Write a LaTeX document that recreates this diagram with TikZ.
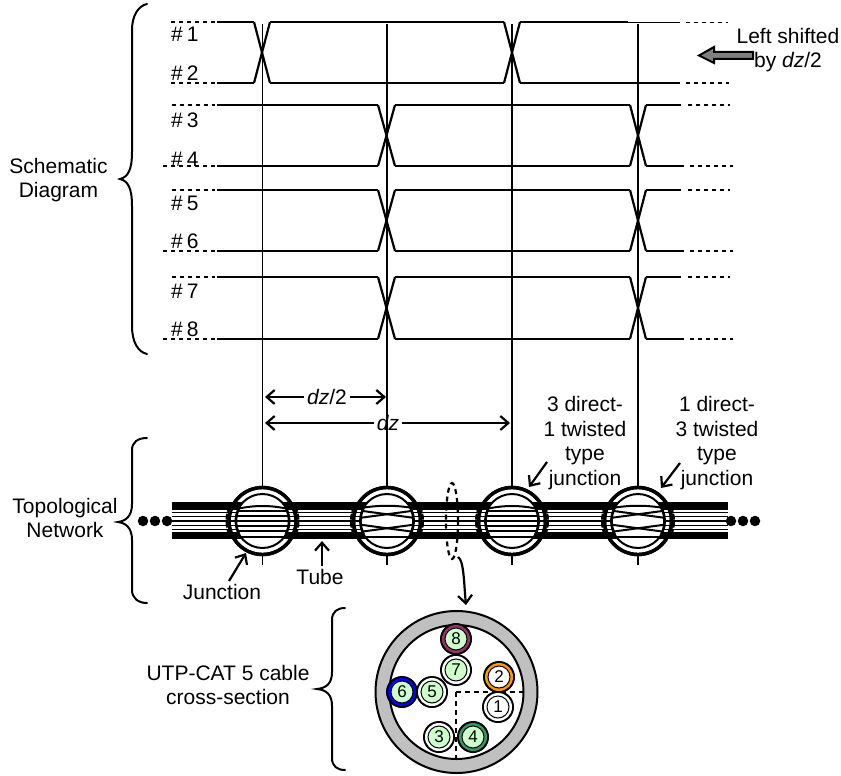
\documentclass[tikz,border=0pt]{standalone}
\usepackage{fontspec}
\setmainfont{Liberation Sans}
\usetikzlibrary{arrows.meta,shapes.geometric}
\definecolor{palegreen}{HTML}{CCFFCC}
\definecolor{ringgray}{HTML}{C0C0C0}
\definecolor{wirepurple}{HTML}{993366}
\definecolor{wireorange}{HTML}{FF9900}
\definecolor{wireblue}{HTML}{0000FF}
\definecolor{wiregreen}{HTML}{339966}
\tikzset{
  lab/.style={font=\fontsize{21}{24.5}\selectfont,inner sep=0pt,align=center},
  pair/.style={font=\fontsize{21}{24}\selectfont,inner sep=0pt,anchor=west},
  thinw/.style={line width=1.7pt},
  thickw/.style={line width=2.6pt},
  crossw/.style={line width=2.2pt},
  dotw/.style={line width=1.6pt,dash pattern=on 3.5pt off 4.5pt},
  vline/.style={line width=1.8pt},
  brace/.style={line width=2pt,line cap=round},
  barb/.style={line width=2.2pt,-{Straight Barb[length=8pt,width=14pt,line width=2.2pt]}},
  tubeline/.style={line width=#1},
  dashc/.style={line width=2.2pt,dash pattern=on 5pt off 4pt},
  ringn/.style={circle,draw=black,line width=3.4pt,fill=white,minimum size=67pt,inner sep=0pt},
}
\newcommand{\tubelines}[2]{%
  \foreach \yy/\ww in {505.8/8,512.5/1.4,516.5/1.4,521/2.6,525.5/1.4,529.5/1.4,535.6/7.6}{
    \draw[tubeline=\ww pt] (#1,\yy) -- (#2,\yy);
  }
}
\newcommand{\junctionbody}[3]{% name, x, type
  \node[ringn] (#1) at (#2,521) {};
  \begin{scope}
    \clip (#2,521) circle (33);
    \tubelines{#2-40}{#2+40}
  \end{scope}
  \fill[white] (#2,521) circle (27);
  \begin{scope}
    \clip (#2,521) circle (27);
    \ifnum#3=0
      \foreach \yy/\ww in {-10.5/2,-5/2,0/2,5/2,10/2,15.5/2}{
        \draw[line width=\ww pt] (#2-30,521+\yy) -- (#2+30,521+\yy);
      }
      \draw[line width=2pt] (#2-26,509) .. controls (#2-8,505) and (#2+8,505) .. (#2+26,509);
    \else
      \draw[line width=2pt] (#2-26,508) .. controls (#2-8,505) and (#2+8,505) .. (#2+26,508);
      \draw[line width=2pt] (#2-30,537) -- (#2+30,537);
      \draw[line width=2pt] (#2-28,510.5) -- (#2+28,518);
      \draw[line width=2pt] (#2-28,518) -- (#2+28,510.5);
      \draw[line width=2pt] (#2-28,524.5) -- (#2+28,532);
      \draw[line width=2pt] (#2-28,532) -- (#2+28,524.5);
    \fi
  \end{scope}
  \draw[line width=2pt] (#2,521) circle (27);
  \draw[line width=3.4pt] (#2,521) circle (33.5);
  \draw[line width=2pt,dash pattern=on 6pt off 2pt] (#2-33,506) .. controls (#2-37,516) and (#2-37,526) .. (#2-33,536);
  \draw[line width=2pt,dash pattern=on 6pt off 2pt] (#2+33,506) .. controls (#2+37,516) and (#2+37,526) .. (#2+33,536);
  \draw[line width=1.6pt] (#2-23,508) .. controls (#2-27,516) and (#2-27,526) .. (#2-23,534);
  \draw[line width=1.6pt] (#2+23,508) .. controls (#2+27,516) and (#2+27,526) .. (#2+23,534);
}
\begin{document}
\begin{tikzpicture}[x=1pt,y=-1pt]
\useasboundingbox (0,0) rectangle (841,776);
% named anchors
\foreach \n/\xx in {a/262.5,b/387,c/512,d/638}{
  \coordinate (top\n) at (\xx,24);
  \coordinate (bot\n) at (\xx,565);
}
% tube
\tubelines{172}{728}
% verticals
\foreach \n in {a,b,c,d}{\draw[vline] (top\n) -- (bot\n);}
% junctions
\junctionbody{ja}{262.5}{0}
\junctionbody{jb}{387}{1}
\junctionbody{jc}{512}{0}
\junctionbody{jd}{638}{1}
% wires 1/2
\draw[thickw] (217,22) -- (254,22);
\draw[thinw] (217,83) -- (254,83);
\draw[crossw] (254,22) -- (270,83);
\draw[crossw] (254,83) -- (270,22);
\draw[thickw] (270,22) -- (504,22);
\draw[thinw] (270,83) -- (504,83);
\draw[crossw] (504,22) -- (520,83);
\draw[crossw] (504,83) -- (520,22);
\draw[thickw] (520,22) -- (628,22);
\draw[thinw] (628,22.5) -- (680,22.5);
\draw[thinw] (520,83) -- (680,83);
% wires 3/4
\draw[thinw] (217,105) -- (378,105);
\draw[thinw] (217,166) -- (378,166);
\draw[crossw] (378,105) -- (395,166);
\draw[crossw] (378,166) -- (395,105);
\draw[thinw] (395,105) -- (630,105);
\draw[thinw] (395,166) -- (630,166);
\draw[crossw] (630,105) -- (646,166);
\draw[crossw] (630,166) -- (646,105);
\draw[thinw] (646,105) -- (681,105);
\draw[thinw] (646,166) -- (684,166);
% wires 5/6
\draw[thinw] (217,190) -- (378,190);
\draw[thinw] (217,251) -- (378,251);
\draw[crossw] (378,190) -- (395,251);
\draw[crossw] (378,251) -- (395,190);
\draw[thinw] (395,190) -- (630,190);
\draw[thinw] (395,251) -- (630,251);
\draw[crossw] (630,190) -- (646,251);
\draw[crossw] (630,251) -- (646,190);
\draw[thickw] (467,190) -- (630,190);
\draw[thickw] (646,190) -- (681,190);
\draw[thinw] (646,251) -- (684,251);
% wires 7/8
\draw[thinw] (217,277) -- (378,277);
\draw[thinw] (217,339) -- (378,339);
\draw[crossw] (378,277) -- (395,339);
\draw[crossw] (378,339) -- (395,277);
\draw[thinw] (395,277) -- (630,277);
\draw[thinw] (395,339) -- (630,339);
\draw[crossw] (630,277) -- (646,339);
\draw[crossw] (630,339) -- (646,277);
\draw[thinw] (646,277) -- (681,277);
\draw[thinw] (646,339) -- (684,339);
% dotted continuations
\foreach \yy/\xa/\xb in {22/171/215,83/171/215,105/172/215,166/163/215,190/172/215,251/163/215,277/172/215,339/163/215,
  22.5/686/728,83/686/729,105/688/730,166/690/733,190/688/730,251/690/733,277/688/730,339/690/733}{
  \draw[dotw] (\xa,\yy) -- (\xb,\yy);
}
% pair labels
\foreach \t/\yy in {1/34,2/73,3/120,4/159,5/203,6/241,7/291,8/329}{
  \node[pair] (p\t) at (171,\yy) {\#\hspace{4pt}\t};
}
% braces
\draw[brace] (147,4) .. controls (138,6) and (132,16) .. (132,30) -- (132,152) .. controls (132,170) and (128,177) .. (120,179) .. controls (128,181) and (132,188) .. (132,206) -- (132,326) .. controls (132,342) and (138,352) .. (147,354);
\draw[brace] (147,438) .. controls (138,438) and (132,442) .. (132,450) -- (132,504) .. controls (132,516) and (126,521) .. (118,522) .. controls (126,523) and (132,528) .. (132,540) -- (132,590) .. controls (132,598) and (138,603) .. (147,603);
\draw[brace] (345,608) .. controls (337,608) and (332,612) .. (332,620) -- (332,672) .. controls (332,684) and (326,688) .. (317,689) .. controls (326,690) and (332,694) .. (332,706) -- (332,758) .. controls (332,766) and (337,770) .. (345,770);
% main labels
\node[lab] (schem) at (58.5,180) {Schematic\\Diagram};
\node[lab] (topo) at (65,518) {Topological\\Network};
\node[lab] (junc) at (222,592) {Junction};
\node[lab] (tube) at (320,577) {Tube};
\node[lab] (utp) at (228,685) {UTP-CAT 5 cable\\cross-section};
\node[lab] (left) at (788,50) {Left shifted\\by \textit{dz}/2};
\node[lab] (dza) at (327,397) {\textit{dz}/2};
\node[lab] (dzb) at (388,423) {\textit{dz}};
\node[lab] (t3) at (585,443) {3 direct-\\1 twisted\\type\\junction};
\node[lab] (t1) at (717,443) {1 direct-\\3 twisted\\type\\junction};
% dz arrows
\coordinate (al) at (265,397); \coordinate (ar) at (386,397);
\coordinate (bl) at (265,423); \coordinate (br) at (510,423);
\draw[barb] ([xshift=-3pt]dza.west) -- (al);
\draw[barb] ([xshift=3pt]dza.east) -- (ar);
\draw[barb] ([xshift=-3pt]dzb.west) -- (bl);
\draw[barb] ([xshift=3pt]dzb.east) -- (br);
% block arrow
\draw[line width=2pt,fill=gray] (753,52) -- (714,52) -- (714,47) -- (699,55.5) -- (714,63) -- (714,59) -- (753,59) -- cycle;
% pointer arrows
\coordinate (pj) at (229,581); \coordinate (qj) at (246,553);
\coordinate (pt) at (322,566); \coordinate (qt) at (322,541);
\coordinate (p3) at (547,462); \coordinate (q3) at (529,487);
\coordinate (p1) at (680,463); \coordinate (q1) at (661,488);
\draw[barb] (pj) -- (qj);
\draw[barb] (pt) -- (qt);
\draw[barb] (p3) -- (q3);
\draw[barb] (p1) -- (q1);
% dashed selection
\node[draw,ellipse,minimum width=12pt,minimum height=76pt,inner sep=0pt,line width=2.2pt,dash pattern=on 5pt off 4pt] (sel) at (452,521) {};
\coordinate (sa) at (458,557); \coordinate (se) at (466,605);
\draw[barb] (sa) .. controls (464,560) and (464,585) .. (se);
% cross-section
\node[circle,draw=black,line width=2pt,fill=ringgray,minimum size=162pt,inner sep=0pt] (outer) at (456.5,692) {};
\node[circle,draw=black,line width=2pt,fill=white,minimum size=134pt,inner sep=0pt] (inner) at (456.5,692) {};
\coordinate (cc) at (456,692); \coordinate (ce) at (523,692); \coordinate (cb) at (456,763);
\draw[dashc] (cc) -- (ce);
\draw[dashc] (cc) -- (cb);
\foreach \nm/\xx/\yy/\rc/\fc in {8/456/639/wirepurple/palegreen,7/456/670/white/palegreen,5/432/692/white/palegreen,6/402/692/wireblue/palegreen,2/499/677/wireorange/white,1/498/707/white/white,3/439/737/white/palegreen,4/473/737/wiregreen/palegreen}{
  \fill[black] (\xx,\yy) circle (16);
  \fill[\rc] (\xx,\yy) circle (14);
  \node[circle,fill=\fc,draw=black,line width=1pt,inner sep=0pt,minimum size=22pt,font=\fontsize{17}{17}\selectfont] (w\nm) at (\xx,\yy) {\nm};
}
% dots
\foreach \xx/\n in {143/l1,155/l2,167/l3,731/r1,743/r2,755/r3}{
  \node[circle,fill=black,minimum size=10.5pt,inner sep=0pt] (d\n) at (\xx,521) {};
}
\end{tikzpicture}
\end{document}
